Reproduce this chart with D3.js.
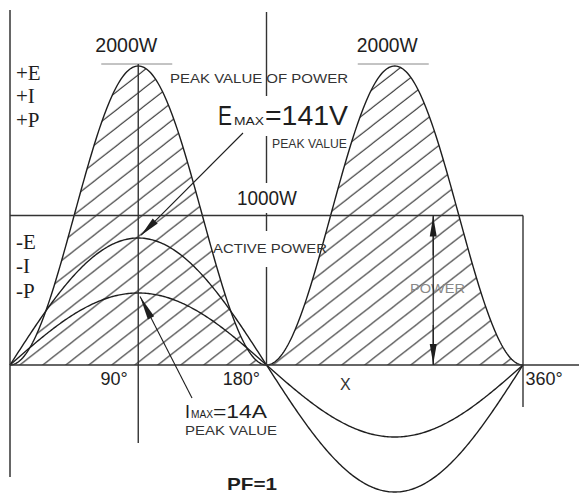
<!DOCTYPE html>
<html>
<head>
<meta charset="utf-8">
<script src="https://cdn.jsdelivr.net/npm/d3@7"></script>
<style>
  html, body { margin: 0; padding: 0; background: #fff; }
  svg { display: block; }
</style>
</head>
<body>
<svg id="chart" width="579" height="494"></svg>
<script>
// Phase angle along the horizontal axis (degrees)
const angleDomain = [0, 360];
const angleTicks = [90, 180, 360];
const angleTickLabels = ["90°", "180°", "360°"];

// Peak values of the waveforms at unity power factor
const powerPeak = 2000;   // W
const activePower = 1000; // W (average power)
const voltagePeak = 141;  // V
const currentPeak = 14;   // A
const powerMarkerAngle = 297; // where the POWER arrow sits

// Sample angles for the waveforms
const sampleAngles = d3.range(0, 360.5, 1);
const rad = d => d * Math.PI / 180;

const svg = d3.select("#chart");

const x = d3.scaleLinear().domain(angleDomain).range([10, 523]);
const yP = d3.scaleLinear().domain([0, powerPeak]).range([365, 66]);
const yE = d3.scaleLinear().domain([-voltagePeak, voltagePeak]).range([492, 238]);
const yI = d3.scaleLinear().domain([-currentPeak, currentPeak]).range([437, 293]);

const ink = "#1e1e1e";
const sans = "'Liberation Sans', Arial, sans-serif";
const serif = "'Liberation Serif', 'Times New Roman', serif";

// Hatch pattern for the instantaneous power area
const hatchW = 23, hatchAngle = 38;
const hatchH = hatchW * Math.tan(rad(hatchAngle));
const defs = svg.append("defs");
defs.append("pattern")
  .attr("id", "hatch")
  .attr("patternUnits", "userSpaceOnUse")
  .attr("width", hatchW).attr("height", hatchH)
  .attr("x", 4).attr("y", 0)
  .append("path")
  .attr("d", `M0,${hatchH} L${hatchW},0 M${-hatchW/4},${hatchH/4} L${hatchW/4},${-hatchH/4} M${hatchW*3/4},${hatchH*5/4} L${hatchW*5/4},${hatchH*3/4}`)
  .attr("stroke", "#2a2a2a").attr("stroke-width", 1).attr("fill", "none");

// Waveforms
const power = a => powerPeak * Math.pow(Math.sin(rad(a)), 2);
const voltage = a => voltagePeak * Math.sin(rad(a));
const current = a => currentPeak * Math.sin(rad(a));

svg.append("path")
  .datum(sampleAngles)
  .attr("fill", "url(#hatch)")
  .attr("d", d3.area().x(d => x(d)).y0(yP(0)).y1(d => yP(power(d))));

const curve = (fn, ys) => d3.line().x(d => x(d)).y(d => ys(fn(d)));
[[power, yP], [voltage, yE], [current, yI]].forEach(([fn, ys]) => {
  svg.append("path")
    .datum(sampleAngles)
    .attr("fill", "none")
    .attr("stroke", ink)
    .attr("stroke-width", 1.4)
    .attr("d", curve(fn, ys));
});

// Peak markers above each power hump
[90, 270].forEach(a => {
  svg.append("line")
    .attr("x1", x(a) - 37).attr("x2", x(a) + 34)
    .attr("y1", yP(powerPeak) - 2).attr("y2", yP(powerPeak) - 2)
    .attr("stroke", "#888").attr("stroke-width", 1);
});

// Active power level with its closing edge at 360°
svg.append("line")
  .attr("x1", x(0)).attr("x2", x(360))
  .attr("y1", yP(activePower)).attr("y2", yP(activePower))
  .attr("stroke", "#333").attr("stroke-width", 1.4);
svg.append("line")
  .attr("x1", x(360)).attr("x2", x(360))
  .attr("y1", yP(activePower)).attr("y2", 407)
  .attr("stroke", "#333").attr("stroke-width", 1.4);

// Axes
svg.append("line")
  .attr("x1", x(0)).attr("x2", 579)
  .attr("y1", yP(0)).attr("y2", yP(0))
  .attr("stroke", "#333").attr("stroke-width", 1.5);
svg.append("line")
  .attr("x1", x(0)).attr("x2", x(0))
  .attr("y1", 10).attr("y2", 477)
  .attr("stroke", "#333").attr("stroke-width", 1.5);
svg.append("line")
  .attr("x1", x(90)).attr("x2", x(90))
  .attr("y1", yP(powerPeak) - 2).attr("y2", 443)
  .attr("stroke", "#333").attr("stroke-width", 1.4);

const axis = d3.axisBottom(x)
  .tickValues(angleTicks)
  .tickFormat((d, i) => angleTickLabels[i])
  .tickSize(0);
const axisG = svg.append("g")
  .attr("transform", `translate(0,${yP(0)})`)
  .call(axis);
axisG.select(".domain").remove();
axisG.selectAll("text")
  .attr("font-family", sans)
  .attr("font-size", 18)
  .attr("fill", ink)
  .attr("y", 20)
  .attr("dy", 0)
  .attr("text-anchor", d => d === 360 ? "start" : "end")
  .attr("dx", d => d === 360 ? 2 : (d === 90 ? -11 : -7));

// Text labels
function label(t, px, py, o = {}) {
  const el = svg.append("text")
    .attr("x", px).attr("y", py)
    .attr("font-family", o.family || sans)
    .attr("font-size", o.size || 12)
    .attr("font-weight", o.weight || "normal")
    .attr("fill", o.fill || ink)
    .attr("text-anchor", o.anchor || "start")
    .text(t);
  if (o.len) el.attr("textLength", o.len).attr("lengthAdjust", "spacingAndGlyphs");
  return el;
}

label("2000W", x(90) - 43, 52, { size: 20, len: 62 });
label("2000W", x(270) - 38, 52, { size: 20, len: 61 });

label("+E", 16, 80, { family: serif, size: 21 });
label("+I", 16, 103, { family: serif, size: 21 });
label("+P", 16, 127, { family: serif, size: 21 });
label("-E", 16, 249, { family: serif, size: 21 });
label("-I", 16, 273, { family: serif, size: 21 });
label("-P", 16, 298, { family: serif, size: 21 });

label("PEAK VALUE OF POWER", 170, 83, { size: 12, len: 178, fill: "#333" });

const gaps = [];
gaps.push({ node: label("E", 218, 125, { size: 27, len: 14 }), pad: 5 });
label("MAX", 234, 125, { size: 11, len: 30 });
label("=141V", 265, 125, { size: 27, len: 83 });
label("PEAK  VALUE", 272, 148, { size: 12, len: 75, fill: "#333" });

gaps.push({ node: label("1000W", 237, 205, { size: 20, len: 60 }), pad: 4 });
gaps.push({ node: label("ACTIVE POWER", 213, 253, { size: 12, len: 114, fill: "#333" }), pad: 11 });

label("POWER", 410, 293, { size: 12, len: 55, fill: "#888" });
label("X", 340, 390, { size: 16, fill: "#333" });

label("I", 185, 418, { size: 18, len: 5 });
label("MAX", 191, 418, { size: 10, len: 22 });
label("=14A", 213, 418, { size: 18, len: 54 });
label("PEAK VALUE", 185, 435, { size: 12, len: 92, fill: "#333" });

label("PF=1", 227, 490, { size: 17, weight: "bold", len: 50 });

// 180° reference line, broken around the labels it passes through
const cuts = gaps.map(g => {
  const b = g.node.node().getBBox();
  return [b.y - g.pad, b.y + b.height + g.pad];
}).sort((a, b) => a[0] - b[0]);
let yStart = 12;
const segs = [];
cuts.forEach(([c0, c1]) => { segs.push([yStart, c0]); yStart = c1; });
segs.push([yStart, yP(0)]);
svg.selectAll(".ref180").data(segs).join("line")
  .attr("class", "ref180")
  .attr("x1", x(180)).attr("x2", x(180))
  .attr("y1", d => d[0]).attr("y2", d => d[1])
  .attr("stroke", "#333").attr("stroke-width", 1.4);

// Leader arrows
function arrow(tail, tip, headLen, halfW, inset) {
  const dx = tip[0] - tail[0], dy = tip[1] - tail[1];
  const L = Math.hypot(dx, dy), ux = dx / L, uy = dy / L;
  const t = [tip[0] - ux * inset, tip[1] - uy * inset];
  svg.append("line")
    .attr("x1", tail[0]).attr("y1", tail[1])
    .attr("x2", t[0]).attr("y2", t[1])
    .attr("stroke", ink).attr("stroke-width", 1.1);
  const bx = t[0] - ux * headLen, by = t[1] - uy * headLen;
  svg.append("polygon")
    .attr("points", [[t[0], t[1]], [bx - uy * halfW, by + ux * halfW], [bx + uy * halfW, by - ux * halfW]].map(p => p.join(",")).join(" "))
    .attr("fill", ink);
}

arrow([243, 133], [x(90), yE(voltagePeak)], 20, 3.5, 4);
arrow([192, 398], [x(90), yI(currentPeak)], 24, 3.5, 4);

const px = x(powerMarkerAngle);
svg.append("line")
  .attr("x1", px).attr("x2", px)
  .attr("y1", yP(activePower)).attr("y2", yP(0))
  .attr("stroke", ink).attr("stroke-width", 1.2);
arrow([px, yP(activePower) + 40], [px, yP(activePower)], 20, 3.5, 1);
arrow([px, yP(0) - 40], [px, yP(0)], 20, 3.5, 1);
</script>
</body>
</html>
